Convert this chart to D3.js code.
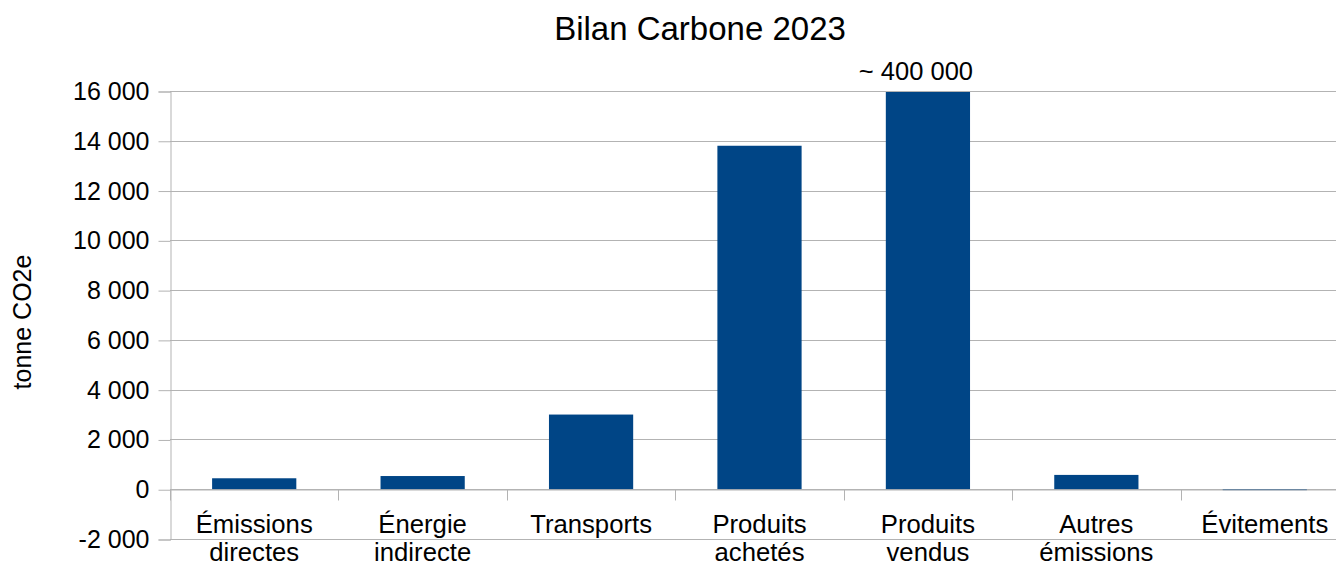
<!DOCTYPE html>
<html lang="fr">
<head>
<meta charset="utf-8">
<title>Bilan Carbone 2023</title>
<script src="https://d3js.org/d3.v7.min.js"></script>
<style>
  body { margin: 0; background: #fff; font-family: "Liberation Sans", Arial, sans-serif; }
  .grid line { stroke: #b3b3b3; }
  .axis text { font-family: "Liberation Sans", Arial, sans-serif; font-size: 25px; fill: #000; }
  .cat text { font-size: 25.7px; }
</style>
</head>
<body>
<div id="chart"></div>
<script>
// data
var categories = ["Émissions\ndirectes", "Énergie\nindirecte", "Transports", "Produits\nachetés", "Produits\nvendus", "Autres\némissions", "Évitements"]
var values = [440, 530, 3000, 13800, 400000, 575, -30]
var yTicks = [-2000, 0, 2000, 4000, 6000, 8000, 10000, 12000, 14000, 16000]
var overflowLabel = "~ 400 000"

var W = 1336, H = 564
var plotLeft = 170, plotRight = 1349, plotTop = 92, plotBottom = 540

var svg = d3.select("#chart").append("svg").attr("width", W).attr("height", H)

var x = d3.scaleBand().domain(categories).range([plotLeft, plotRight]).paddingInner(0).paddingOuter(0)
var y = d3.scaleLinear().domain([-2000, 16000]).range([plotBottom, plotTop])

var fmt = function(d) { return d3.format(",")(d).replace(/,/g, " ").replace("−", "-") }

// grid
svg.append("g").attr("class", "grid")
  .selectAll("line").data(yTicks).enter().append("line")
  .attr("x1", plotLeft).attr("x2", W)
  .attr("y1", function(d) { return Math.round(y(d)) - 0.5 })
  .attr("y2", function(d) { return Math.round(y(d)) - 0.5 })

// y axis
var yAxis = d3.axisLeft(y).tickValues(yTicks).tickSize(12).tickPadding(9).tickFormat(fmt)
var gy = svg.append("g").attr("class", "axis").attr("transform", "translate(" + (plotLeft + 0.5) + ",-0.5)").call(yAxis)
gy.select(".domain").attr("stroke", "#b3b3b3")
gy.selectAll(".tick line").attr("stroke", "#b3b3b3")

// clip for bars
svg.append("clipPath").attr("id", "plot")
  .append("rect").attr("x", plotLeft).attr("y", plotTop).attr("width", plotRight - plotLeft).attr("height", plotBottom - plotTop)

svg.append("g").attr("clip-path", "url(#plot)")
  .selectAll("rect").data(values).enter().append("rect")
  .attr("x", function(d, i) { return x(categories[i]) + x.bandwidth() * 0.25 })
  .attr("width", x.bandwidth() * 0.5)
  .attr("y", function(d) { return y(Math.max(0, d)) - 1 })
  .attr("height", function(d) { return Math.max(1, Math.abs(y(d) - y(0))) })
  .attr("fill", "#004586")

// category axis at zero
var xAxis = d3.axisBottom(x).tickSize(0).tickFormat("")
var gx = svg.append("g").attr("transform", "translate(0," + (Math.round(y(0)) - 0.5) + ")").call(xAxis)
gx.select(".domain").attr("stroke", "#b3b3b3")
var bounds = categories.map(function(c) { return x(c) }).concat([plotRight])
gx.selectAll(".sep").data(bounds).enter().append("line")
  .attr("x1", function(d) { return Math.round(d) + 0.5 }).attr("x2", function(d) { return Math.round(d) + 0.5 })
  .attr("y1", 0).attr("y2", 11).attr("stroke", "#b3b3b3")

// category labels
var lab = svg.append("g").attr("class", "axis cat")
categories.forEach(function(c) {
  var t = lab.append("text").attr("text-anchor", "middle")
    .attr("x", x(c) + x.bandwidth() / 2).attr("y", 533)
  c.split("\n").forEach(function(s, j) {
    t.append("tspan").attr("x", x(c) + x.bandwidth() / 2).attr("dy", j === 0 ? 0 : 28).text(s)
  })
})

// overflow label
var vi = values.indexOf(d3.max(values))
svg.append("text").attr("class", "axis")
  .attr("x", x(categories[vi]) + x.bandwidth() / 2 - 12).attr("y", 80)
  .attr("text-anchor", "middle").style("font-size", "25.5px")
  .text(overflowLabel)

// title
svg.append("text").attr("x", 700).attr("y", 40).attr("text-anchor", "middle")
  .style("font-size", "33px").text("Bilan Carbone 2023")

// y title
svg.append("text").attr("transform", "translate(31,322) rotate(-90)")
  .attr("text-anchor", "middle").style("font-size", "25px").text("tonne CO2e")
</script>
</body>
</html>
